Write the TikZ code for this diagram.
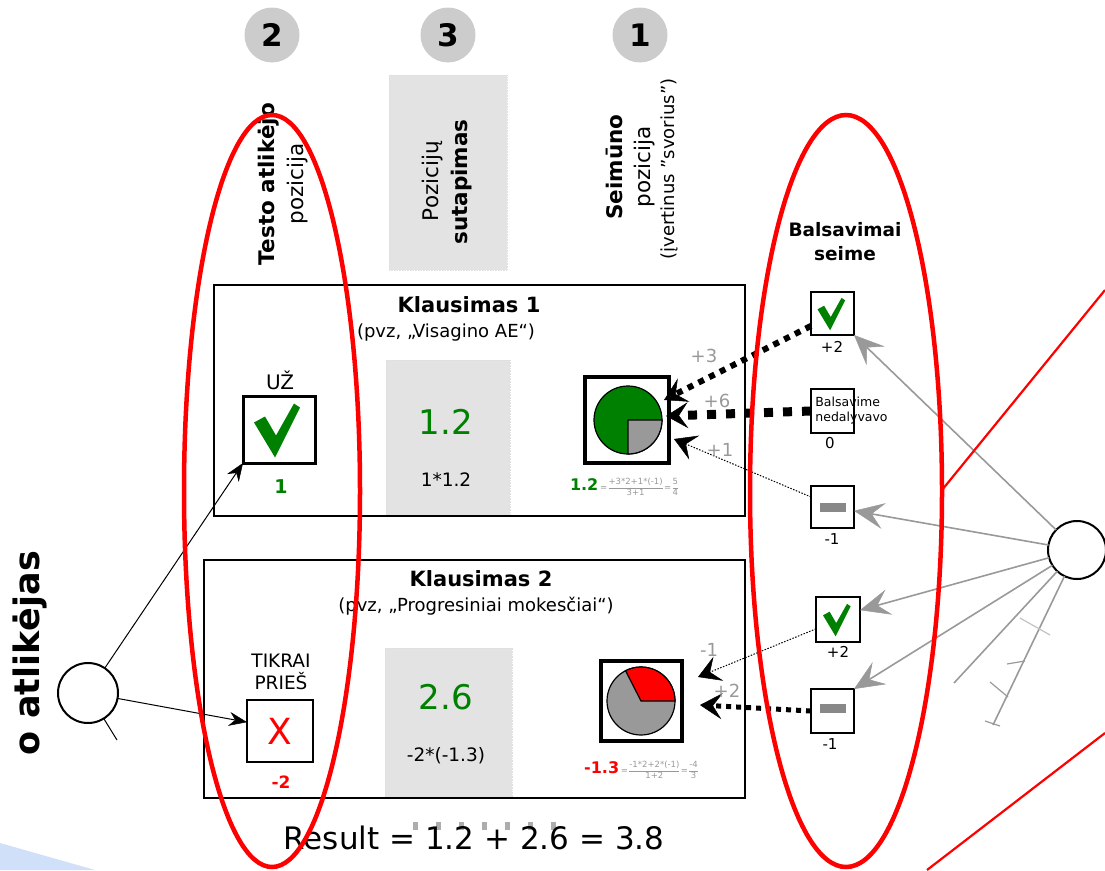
\documentclass[tikz,border=0pt]{standalone}
\usepackage{fontspec}
\setmainfont{DejaVu Sans}
\usetikzlibrary{arrows.meta,calc}
\definecolor{grn}{HTML}{008000}
\definecolor{hgray}{HTML}{CCCCCC}
\definecolor{rgray}{HTML}{E3E3E3}
\definecolor{lgray}{HTML}{999999}
\definecolor{mgray}{HTML}{888888}
\definecolor{lblue}{HTML}{D0E0F8}
\newcommand{\fsz}[2]{\fontsize{#1}{#2}\selectfont}
\newcommand{\myfr}[2]{$\vcenter{\hbox{\tabcolsep=0pt\begin{tabular}{c}#1\\\hline #2\end{tabular}}}$}
\tikzset{chk/.pic={\fill[grn] (-25,7) -- (-14,13) -- (-3,-6) -- (15,26) -- (21,22) -- (-4,-28) -- cycle;}}
\begin{document}
\begin{tikzpicture}[x=1pt,y=1pt, every node/.style={inner sep=0pt, outer sep=0pt},
 hnum/.style={circle, fill=hgray, minimum size=55, font=\bfseries\fsz{31}{33}},
 graybox/.style={fill=rgray, draw=gray!25, densely dotted, line width=0.6},
 qbox/.style={draw, line width=2.5},
 vbox/.style={draw, line width=2, fill=white, minimum width=43, minimum height=43},
 pbox/.style={draw, line width=4, minimum width=84, minimum height=86},
 rot/.style={rotate=90, anchor=base},
 lbl/.style={text=lgray, font=\fsz{18}{20}},
 vlab/.style={font=\fsz{15}{17}},
 tipk/.style={-{Stealth[length=22pt,width=26pt,inset=9pt,line width=0.5pt]}},
 vdotsq/.style={tipk, line width=6, dash pattern=on 6 off 6},
 vdotsqb/.style={tipk, line width=5, dash pattern=on 5 off 5},
 vdashbig/.style={tipk, line width=9, dash pattern=on 9 off 10},
 vdotthin/.style={tipk, line width=1, dash pattern=on 1.5 off 1.5},
 garr/.style={draw=lgray, line width=1.6, -{Stealth[length=30pt,width=26pt,inset=12pt,line width=0.5pt]}},
 gline/.style={draw=lgray, line width=1.6},
 barr/.style={line width=1, -{Stealth[length=18pt,width=14pt,inset=6pt,line width=0.5pt]}}
 ]
\useasboundingbox (0,0) rectangle (1105,-870);
% background blue wedge
\fill[lblue] (0,-843) -- (95,-870) -- (0,-870) -- cycle;
% header numbers
\node[hnum] (n2) at (272,-35) {2};
\node[hnum] (n3) at (448,-35) {3};
\node[hnum] (n1) at (640,-35) {1};
% header rect and headers
\node[graybox, minimum width=118, minimum height=195] (g0) at (448,-172.5) {};
\node[rot, font=\fsz{21.5}{25}] (h3a) at (438,-181) {Pozicijų};
\node[rot, font=\bfseries\fsz{21.5}{25}] (h3b) at (467,-182) {sutapimas};
\node[rot, font=\bfseries\fsz{21.5}{25}] (h2a) at (274,-184) {Testo atlikėjo};
\node[rot, font=\fsz{21.5}{25}] (h2b) at (303,-184) {pozicija};
\node[rot, font=\bfseries\fsz{21.5}{25}] (h1a) at (622,-167) {Seimūno};
\node[rot, font=\fsz{21.5}{25}] (h1b) at (650,-167) {pozicija};
\node[rot, font=\fsz{18}{20}] (h1c) at (674,-169) {(įvertinus "svorius")};
% Question 1
\node[graybox, minimum width=124, minimum height=155] (g1) at (448,-437.5) {};
\node[qbox, minimum width=531, minimum height=231] (k1) at (479.5,-400.5) {};
\node[font=\bfseries\fsz{21}{24}] (t1) at (469,-305) {Klausimas 1};
\node[font=\fsz{18}{21}] (s1) at (446,-333) {(pvz, „Visagino AE“)};
\node[font=\fsz{20}{22}] (uzl) at (280,-380) {UŽ};
\node[draw, line width=3, minimum width=72, minimum height=67] (uz) at (279,-429.5) {};
\pic at (uz.center) {chk};
\node[font=\bfseries\fsz{19}{20}, text=grn] (uzv) at (281,-487) {1};
\node[font=\fsz{34}{36}, text=grn] (m1) at (446,-422) {1.2};
\node[font=\fsz{18.5}{20}] (m1b) at (446,-480) {1*1.2};
\node[pbox] (p1) at (627,-419.5) {};
\filldraw[fill=grn, line width=1.2] (628,-420) circle[radius=34];
\filldraw[fill=lgray, line width=1.2] (628,-420) -- (662,-420) arc[start angle=0,end angle=-90,radius=34] -- cycle;
\node (f1) at (624,-488) {{\fsz{16}{18}\bfseries\color{grn}1.2}\,{\color{lgray}\fsz{8.5}{10}=\,\myfr{+3*2+1*(-1)}{3+1}\,=\,\myfr{5}{4}}};
% Question 2
\node[graybox, minimum width=127, minimum height=150] (g2) at (448.5,-723) {};
\node[qbox, minimum width=541, minimum height=238] (k2) at (474.5,-679) {};
\node[font=\bfseries\fsz{21}{24}] (t2) at (481,-579) {Klausimas 2};
\node[font=\fsz{18}{21}] (s2) at (476,-606) {(pvz, „Progresiniai mokesčiai“)};
\node[font=\fsz{18.5}{22}, align=center] (xl) at (281,-672) {TIKRAI\\PRIEŠ};
\node[draw, line width=2.5, minimum width=66, minimum height=62, text=red, font=\fsz{36}{38}] (xb) at (280,-731) {X};
\node[font=\bfseries\fsz{17}{18}, text=red] (xv) at (281,-782) {-2};
\node[font=\fsz{34}{36}, text=grn] (m2) at (446,-697) {2.6};
\node[font=\fsz{18.5}{20}] (m2b) at (446,-756) {-2*(-1.3)};
\node[pbox, minimum width=81, minimum height=80] (p2) at (641,-701) {};
\filldraw[fill=lgray, line width=1.2] (641,-701) circle[radius=34];
\filldraw[fill=red, line width=1.2] (641,-701) -- (675,-701) arc[start angle=0,end angle=117,radius=34] -- cycle;
\node (f2) at (641,-771) {{\fsz{16}{18}\bfseries\color{red}-1.3}\,{\color{lgray}\fsz{8.5}{10}=\,\myfr{-1*2+2*(-1)}{1+2}\,=\,\myfr{-4}{3}}};
% Votes
\node[font=\bfseries\fsz{18.5}{24}, align=center] (bt) at (845,-242) {Balsavimai\\seime};
\node[vbox] (v1) at (832.5,-313.5) {};
\pic[scale=0.6] at (v1.center) {chk};
\node[vlab] (v1l) at (832,-347) {+2};
\node[vbox, minimum height=44] (v2) at (832.5,-411) {};
\node[font=\fsz{12.5}{15}, align=left] (v2t) at (851.5,-410.5) {Balsavime\\nedalyvavo};
\node[vlab] (v2l) at (830,-443) {0};
\node[vbox, minimum height=42] (v3) at (832.5,-507) {};
\fill[mgray] (820,-503) rectangle (846,-512);
\node[vlab] (v3l) at (832,-539) {-1};
\node[vbox, minimum width=44, minimum height=45] (v4) at (838,-619.5) {};
\pic[scale=0.6] at (v4.center) {chk};
\node[vlab] (v4l) at (838,-652) {+2};
\node[vbox, minimum height=44] (v5) at (832.5,-711) {};
\fill[mgray] (820,-704) rectangle (846,-713);
\node[vlab] (v5l) at (830,-744) {-1};
% vote connectors
\coordinate (p1a) at (664,-400);
\coordinate (p1b) at (666,-416);
\coordinate (p1c) at (674,-439);
\coordinate (p2a) at (698,-677);
\coordinate (p2b) at (700,-705);
\draw[vdotsq] (v1.210) -- (p1a);
\draw[vdashbig] (v2.west) -- (p1b);
\draw[vdotthin] (v3.155) -- (p1c);
\draw[vdotthin] (v4.203) -- (p2a);
\draw[vdotsqb] (v5.west) -- (p2b);
\node[lbl] (l3) at (704,-356) {+3};
\node[lbl] (l6) at (717,-401) {+6};
\node[lbl] (l1) at (720,-450) {+1};
\node[lbl] (lm1) at (709,-650) {-1};
\node[lbl] (l2) at (727,-691) {+2};
% right circle
\node[circle, draw, line width=2, minimum size=58, fill=white] (rc) at (1077,-550) {};
\coordinate (e1) at (954,-683);
\coordinate (e2) at (993,-725);
\draw[garr] (rc) -- (v1.south east);
\draw[garr] (rc) -- (v3.-10);
\draw[garr] (rc) -- (v4.23);
\draw[garr] (rc) -- (v5.north east);
\draw[gline] (rc) -- (e1);
\draw[gline] (rc) -- (e2);
\draw[draw=lgray!60, line width=1.2] (1020,-618) -- (1050,-635);
\draw[draw=lgray, line width=1.2] (1007,-664) -- (1025,-661);
\draw[draw=lgray, line width=1.2] (990,-682) -- (1008,-697);
\draw[draw=lgray, line width=1.2] (985,-721) -- (1000,-726);
% left circle
\node[circle, draw, line width=2, minimum size=60] (lc) at (88,-693) {};
\coordinate (lt) at (117,-740);
\draw[barr] (lc) -- (uz.south west);
\draw[barr] (lc) -- (xb.165);
\draw[line width=1] (lc) -- (lt);
\node[rotate=90, anchor=base west, font=\bfseries\fsz{35}{40}] (tl) at (39,-755) {o atlikėjas};
% result
\draw[draw=lgray!80, line width=8, dash pattern=on 5 off 18] (413,-826) -- (560,-826);
\node[font=\fsz{31}{36}] (res) at (474,-838) {Result = 1.2 + 2.6 = 3.8};
% red highlights
\draw[red, line width=4.5] (272,-491) ellipse[x radius=88, y radius=376];
\draw[red, line width=4.5] (846,-491) ellipse[x radius=96, y radius=376];
\draw[red, line width=2.2] (942,-490) -- (1105,-290);
\draw[red, line width=2.2] (927,-870) -- (1105,-733);
\end{tikzpicture}
\end{document}
